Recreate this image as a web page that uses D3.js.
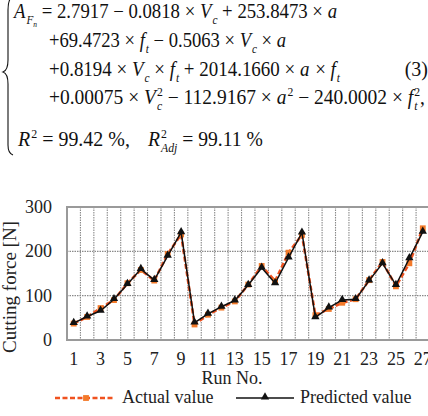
<!DOCTYPE html>
<meta charset="utf-8">
<style>
body, html { margin: 0; padding: 0; background: #fff; }
svg { display: block; }
text { font-family: "Liberation Serif", "DejaVu Serif", serif; fill: #111; }
.grid line { stroke: #8a8a8a; stroke-width: 1.1; stroke-dasharray: 1.5,1; }
.frame { fill: none; stroke: #9a9a9a; stroke-width: 2; }
</style>
<svg width="428" height="416"></svg>
<script src="https://cdn.jsdelivr.net/npm/d3@7"></script>
<script>

// chart data
var runs = d3.range(1, 28);
var actual = [37, 52, 72, 90, 128, 158, 134, 194, 238, 35, 57, 73, 87, 125, 167, 133, 197, 237, 56, 70, 84, 92, 135, 176, 121, 173, 252];
var predicted = [38, 53, 66, 92, 126, 160, 135, 190, 243, 39, 59, 75, 89, 124, 163, 128, 186, 242, 51, 73, 90, 92, 134, 173, 124, 184, 244];
var yTicks = [0, 100, 200, 300];
var xTickRuns = runs.filter(function (r) { return r % 2 === 1; });

var svg = d3.select('svg');
var NB = '\u00A0';

// ---------- equation (3) ----------
// each piece: [text, kind]  kind: r roman, i italic, sub, sup, ss (sub+sup stacked), subsub
var eqLines = [
  {x: 14, y: 18, end: 338, parts: [['A','i'], ['F','sub'], ['n','subsub'], [NB+'= 2.7917 − 0.0818 ×'+NB,'r'], ['V','i'], ['c','sub'], [NB+'+ 253.8473 ×'+NB,'r'], ['a','i']]},
  {x: 49, y: 47, end: 287, parts: [['+69.4723 ×'+NB,'r'], ['f','i'], ['t','sub'], [NB+'− 0.5063 ×'+NB,'r'], ['V','i'], ['c','sub'], [NB+'×'+NB,'r'], ['a','i']]},
  {x: 49, y: 76, end: 340, parts: [['+0.8194 ×'+NB,'r'], ['V','i'], ['c','sub'], [NB+'×'+NB,'r'], ['f','i'], ['t','sub'], [NB+'+ 2014.1660 ×'+NB,'r'], ['a','i'], [NB+'×'+NB,'r'], ['f','i'], ['t','sub']]},
  {x: 49, y: 104, end: 425, parts: [['+0.00075 ×'+NB,'r'], ['V','i'], [['c','2'],'ss'], [NB+'− 112.9167 ×'+NB,'r'], ['a','i'], ['2','sup'], [NB+'− 240.0002 ×'+NB,'r'], ['f','i'], [['t','2'],'ss'], [',','r']]},
  {x: 18, y: 146, end: 130, parts: [['R','i'], ['2','sup'], [NB+'= 99.42 %,','r']]},
  {x: 148, y: 146, end: 263, parts: [['R','i'], [['Adj','2'],'ss'], [NB+'= 99.11 %','r']]}
];

var fs = 20;
var eq = svg.append('g').attr('class', 'equation');

eqLines.forEach(function (line) {
  var g = eq.append('g').attr('transform', 'translate(' + line.x + ',' + line.y + ')');
  var cx = 0;
  line.parts.forEach(function (p) {
    var kind = p[1], w = 0, t;
    if (kind === 'ss') {
      var a = g.append('text').attr('x', cx).attr('y', 6).style('font-size', fs * 0.6 + 'px').style('font-style', 'italic').text(p[0][0]);
      var b = g.append('text').attr('x', cx).attr('y', -8).style('font-size', fs * 0.6 + 'px').text(p[0][1]);
      w = Math.max(a.node().getComputedTextLength(), b.node().getComputedTextLength());
    } else {
      t = g.append('text').attr('x', cx).text(p[0]);
      if (kind === 'i') t.style('font-style', 'italic');
      if (kind === 'sub') t.attr('y', 6).style('font-size', fs * 0.6 + 'px').style('font-style', 'italic');
      if (kind === 'subsub') t.attr('y', 9).style('font-size', fs * 0.4 + 'px').style('font-style', 'italic');
      if (kind === 'sup') t.attr('y', -8).style('font-size', fs * 0.6 + 'px');
      if (kind === 'r' || kind === 'i') t.style('font-size', fs + 'px');
      w = t.node().getComputedTextLength();
    }
    cx += w + (kind === 'i' ? 1 : 0);
  });
  var k = (line.end - line.x) / cx;
  g.attr('transform', 'translate(' + line.x + ',' + line.y + ') scale(' + k + ',1)');
});

eq.append('text').attr('x', 428).attr('y', 76).attr('text-anchor', 'end')
  .style('font-size', fs + 'px').text('(3)');

// left brace
eq.append('path')
  .attr('d', 'M13,-4 C9,-2 8,2 8,10 L8,60 C8,67 6,71 3,72 C6,73 8,77 8,84 L8,145 C8,151 10,154 13,155')
  .attr('fill', 'none').attr('stroke', '#111').attr('stroke-width', 1.1);

// ---------- chart ----------
var plot = {left: 67, right: 429.5, top: 207, bottom: 340};

var x = d3.scaleBand().domain(runs).range([plot.left, plot.right]).padding(0);
var y = d3.scaleLinear().domain([0, 300]).range([plot.bottom, plot.top]);
var cxOf = function (r) { return x(r) + x.bandwidth() / 2; };

var grid = svg.append('g').attr('class', 'grid');
grid.selectAll('line.v').data(runs.slice(1)).enter().append('line')
  .attr('x1', function (r) { return x(r); }).attr('x2', function (r) { return x(r); })
  .attr('y1', plot.top).attr('y2', plot.bottom);
grid.selectAll('line.h').data([100, 200]).enter().append('line')
  .attr('x1', plot.left).attr('x2', plot.right)
  .attr('y1', function (d) { return y(d); }).attr('y2', function (d) { return y(d); });

svg.append('rect').attr('class', 'frame')
  .attr('x', plot.left).attr('y', plot.top)
  .attr('width', plot.right - plot.left).attr('height', plot.bottom - plot.top);

// y tick labels
svg.append('g').selectAll('text').data(yTicks).enter().append('text')
  .attr('x', 52).attr('y', function (d) { return y(d) + 6; })
  .attr('text-anchor', 'end').style('font-size', '18px').style('fill', '#222')
  .text(function (d) { return d; });

// x tick labels
svg.append('g').selectAll('text').data(xTickRuns).enter().append('text')
  .attr('x', function (r) { return cxOf(r); }).attr('y', 365)
  .attr('text-anchor', 'middle').style('font-size', '18px').style('fill', '#222')
  .text(function (r) { return r; });

svg.append('text').attr('x', 232).attr('y', 384).attr('text-anchor', 'middle')
  .style('font-size', '18px').style('fill', '#222').text('Run No.');

svg.append('text').attr('transform', 'translate(16,287) rotate(-90)')
  .attr('text-anchor', 'middle').style('font-size', '19px').style('fill', '#222')
  .text('Cutting force [N]');

// series
var line = d3.line().x(function (d) { return cxOf(d[0]); }).y(function (d) { return y(d[1]); });
var actualPts = runs.map(function (r, i) { return [r, actual[i]]; });
var predPts = runs.map(function (r, i) { return [r, predicted[i]]; });

var orange = '#f0521f';
var sq = d3.symbol().type(d3.symbolSquare).size(34);
var tri = d3.symbol().type(d3.symbolTriangle).size(30);

svg.append('path').datum(actualPts).attr('d', line)
  .attr('fill', 'none').attr('stroke', orange).attr('stroke-width', 2.6).attr('stroke-dasharray', '5,2.5');
svg.append('g').selectAll('path').data(actualPts).enter().append('path')
  .attr('d', sq).attr('fill', '#f37a2a')
  .attr('transform', function (d) { return 'translate(' + cxOf(d[0]) + ',' + y(d[1]) + ')'; });

svg.append('path').datum(predPts).attr('d', line)
  .attr('fill', 'none').attr('stroke', '#111').attr('stroke-width', 1.5);
svg.append('g').selectAll('path').data(predPts).enter().append('path')
  .attr('d', tri).attr('fill', '#111')
  .attr('transform', function (d) { return 'translate(' + cxOf(d[0]) + ',' + (y(d[1]) - 0.5) + ')'; });

// legend
var lg = svg.append('g');
lg.append('line').attr('x1', 55).attr('x2', 115).attr('y1', 398).attr('y2', 398)
  .attr('stroke', orange).attr('stroke-width', 2.6).attr('stroke-dasharray', '5,2.5');
lg.append('path').attr('d', sq).attr('fill', '#f37a2a').attr('transform', 'translate(86,398)');
lg.append('text').attr('x', 122).attr('y', 403).style('font-size', '18px').style('fill', '#222').text('Actual value');

lg.append('line').attr('x1', 236).attr('x2', 294).attr('y1', 398).attr('y2', 398)
  .attr('stroke', '#111').attr('stroke-width', 1.3);
lg.append('path').attr('d', tri).attr('fill', '#111').attr('transform', 'translate(265,397)');
lg.append('text').attr('x', 300).attr('y', 403).style('font-size', '18px').style('fill', '#222').text('Predicted value');

</script>
